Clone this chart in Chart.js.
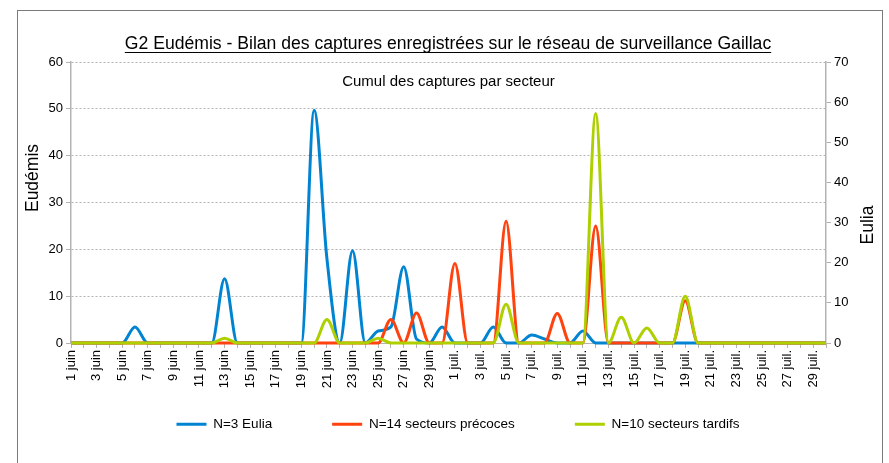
<!DOCTYPE html>
<html>
<head>
<meta charset="utf-8">
<script src="https://cdn.jsdelivr.net/npm/chart.js@4.4.1/dist/chart.umd.min.js"></script>
<style>
html, body { margin: 0; padding: 0; background: #fff; }
canvas { display: block; }
</style>
</head>
<body>
<canvas id="c" width="889" height="463"></canvas>
<script>
const categories = [
  '1 juin','2 juin','3 juin','4 juin','5 juin','6 juin','7 juin','8 juin','9 juin','10 juin',
  '11 juin','12 juin','13 juin','14 juin','15 juin','16 juin','17 juin','18 juin','19 juin','20 juin',
  '21 juin','22 juin','23 juin','24 juin','25 juin','26 juin','27 juin','28 juin','29 juin','30 juin',
  '1 juil.','2 juil.','3 juil.','4 juil.','5 juil.','6 juil.','7 juil.','8 juil.','9 juil.','10 juil.',
  '11 juil.','12 juil.','13 juil.','14 juil.','15 juil.','16 juil.','17 juil.','18 juil.','19 juil.','20 juil.',
  '21 juil.','22 juil.','23 juil.','24 juil.','25 juil.','26 juil.','27 juil.','28 juil.','29 juil.','30 juil.'
];
const xTickLabels = [
  '1 juin','3 juin','5 juin','7 juin','9 juin','11 juin','13 juin','15 juin','17 juin','19 juin',
  '21 juin','23 juin','25 juin','27 juin','29 juin',
  '1 juil.','3 juil.','5 juil.','7 juil.','9 juil.','11 juil.','13 juil.','15 juil.','17 juil.','19 juil.',
  '21 juil.','23 juil.','25 juil.','27 juil.','29 juil.'
];
// N=3 Eulia (right axis)
const euliaValues = [
  0,0,0,0,0,4,0,0,0,0,
  0,0,16,0,0,0,0,0,0,58,
  21,0,23,0,3,4,19,1,0,4,
  0,0,0,4,0,0,2,1,0,0,
  3,0,0,0,0,0,0,0,0,0,
  0,0,0,0,0,0,0,0,0,0
];
// N=14 secteurs précoces (left axis)
const precocesValues = [
  0,0,0,0,0,0,0,0,0,0,
  0,0,0,0,0,0,0,0,0,0,
  0,0,0,0,0,5,0,6.4,0,0,
  17,0,0,0,26,0,0,0,6.3,0,
  0,25,0,0,0,0,0,0,9,0,
  0,0,0,0,0,0,0,0,0,0
];
// N=10 secteurs tardifs (left axis)
const tardifsValues = [
  0,0,0,0,0,0,0,0,0,0,
  0,0,1,0,0,0,0,0,0,0,
  5,0,0,0,1,0,0,0,0,0,
  0,0,0,0,8.3,0,0,0,0,0,
  0,49,0,5.5,0,3.2,0,0,10,0,
  0,0,0,0,0,0,0,0,0,0
];
const seriesNames = ['N=3 Eulia', 'N=14 secteurs précoces', 'N=10 secteurs tardifs'];
const seriesColors = ['#0084d1', '#ff420e', '#aecf00'];
const leftTicks = { min: 0, max: 60, step: 10 };
const rightTicks = { min: 0, max: 70, step: 10 };
const titleText = 'G2 Eudémis - Bilan des captures enregistrées sur le réseau de surveillance Gaillac';
const subtitleText = 'Cumul des captures par secteur';
const leftAxisTitle = 'Eudémis';
const rightAxisTitle = 'Eulia';

const FONT = '"Liberation Sans", Arial, sans-serif';
const GRAY = '#b3b3b3';

const decor = {
  id: 'decor',
  afterLayout(chart) {
    const lg = chart.legend;
    if (lg) {
      lg.top = 357.5;
      lg.height = 95;
      lg.bottom = lg.top + lg.height;
      lg.left += 10; lg.right += 10;
    }
  },
  beforeDraw(chart) {
    const ctx = chart.ctx;
    ctx.save();
    ctx.fillStyle = '#fff';
    ctx.fillRect(0, 0, chart.width, chart.height);
    ctx.strokeStyle = '#7a7a7a';
    ctx.lineWidth = 1;
    ctx.strokeRect(17.5, 10.5, 865, 480);
    ctx.restore();
  },
  afterDraw(chart) {
    const ctx = chart.ctx;
    const a = chart.chartArea;
    ctx.save();
    ctx.font = '17.6px ' + FONT;
    const tw = ctx.measureText(titleText).width;
    const tb = chart.titleBlock;
    const cx = (tb.left + tb.right) / 2;
    ctx.strokeStyle = '#000';
    ctx.lineWidth = 1;
    ctx.beginPath();
    ctx.moveTo(cx - tw / 2, 52.5);
    ctx.lineTo(cx + tw / 2, 52.5);
    ctx.stroke();
    ctx.fillStyle = '#000';
    ctx.font = '15px ' + FONT;
    ctx.textAlign = 'center';
    ctx.textBaseline = 'middle';
    ctx.fillText(subtitleText, (a.left + a.right) / 2, 82);
    ctx.font = '17.5px ' + FONT;
    ctx.save();
    ctx.translate(33, 178);
    ctx.rotate(-Math.PI / 2);
    ctx.fillText(leftAxisTitle, 0, 0);
    ctx.restore();
    ctx.save();
    ctx.translate(868, 225);
    ctx.rotate(-Math.PI / 2);
    ctx.fillText(rightAxisTitle, 0, 0);
    ctx.restore();
    ctx.restore();
  }
};

new Chart(document.getElementById('c'), {
  type: 'line',
  data: {
    labels: categories,
    datasets: [
      { label: seriesNames[0], data: euliaValues, yAxisID: 'y1', borderColor: seriesColors[0], backgroundColor: seriesColors[0], order: 3 },
      { label: seriesNames[1], data: precocesValues, yAxisID: 'y', borderColor: seriesColors[1], backgroundColor: seriesColors[1], order: 2 },
      { label: seriesNames[2], data: tardifsValues, yAxisID: 'y', borderColor: seriesColors[2], backgroundColor: seriesColors[2], order: 1 }
    ]
  },
  options: {
    responsive: false,
    animation: false,
    devicePixelRatio: 1,
    events: [],
    layout: { padding: { left: 25, right: 18, top: 0, bottom: 34 } },
    elements: {
      line: { borderWidth: 3, cubicInterpolationMode: 'monotone', fill: false },
      point: { radius: 0, hitRadius: 0, borderWidth: 3 }
    },
    datasets: { line: { clip: { left: 4, right: 4, top: 4, bottom: 2 } } },
    plugins: {
      title: {
        display: true, text: titleText, color: '#000',
        font: { family: FONT, size: 17.6, weight: 'normal' },
        padding: { top: 33.4, bottom: 7.5 }
      },
      legend: {
        position: 'bottom',
        maxHeight: 30,
        labels: {
          usePointStyle: true, pointStyle: 'line', pointStyleWidth: 30,
          font: { family: FONT, size: 13.5 }, color: '#000', padding: 60,
          sort: (p, q) => p.datasetIndex - q.datasetIndex
        }
      },
      tooltip: { enabled: false }
    },
    scales: {
      x: {
        type: 'category',
        offset: false,
        grid: { drawOnChartArea: false, color: GRAY, tickLength: 5 },
        border: { color: GRAY },
        ticks: {
          autoSkip: false, maxRotation: 90, minRotation: 90, padding: 2,
          color: '#000', font: { family: FONT, size: 13 },
          callback: function (v, i) { const c = categories[i]; return xTickLabels.includes(c) ? c : ''; }
        },
        afterFit: s => { s.height = 56; }
      },
      y: {
        position: 'left', min: leftTicks.min, max: leftTicks.max,
        ticks: { stepSize: leftTicks.step, color: '#000', font: { family: FONT, size: 13 }, padding: 3 },
        grid: { color: GRAY, tickLength: 5, tickBorderDash: [] },
        border: { color: GRAY, width: 1.5, dash: [2, 2] },
        afterFit: s => { s.width = 46; }
      },
      y1: {
        position: 'right', min: rightTicks.min, max: rightTicks.max,
        ticks: { stepSize: rightTicks.step, color: '#000', font: { family: FONT, size: 13 }, padding: 3 },
        grid: { drawOnChartArea: false, color: GRAY, tickLength: 5 },
        border: { color: GRAY, width: 1.5 },
        afterFit: s => { s.width = 45; }
      }
    }
  },
  plugins: [decor]
});
</script>
</body>
</html>
